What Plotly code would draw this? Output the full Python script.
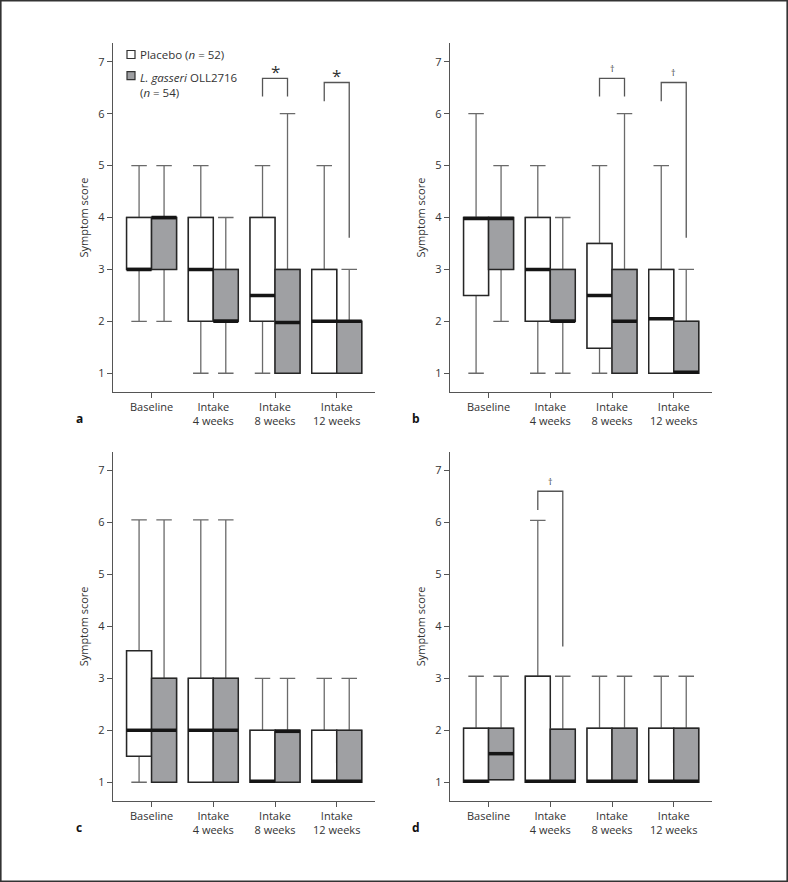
import plotly.graph_objects as go

# ---------------- data ----------------
categories = ["Baseline", "Intake<br>4 weeks", "Intake<br>8 weeks", "Intake<br>12 weeks"]
y_ticks = [1, 2, 3, 4, 5, 6, 7]

# each entry: (lower whisker, Q1, median, Q3, upper whisker) per category
a_placebo = [(2, 3, 3, 4, 5), (1, 2, 3, 4, 5), (1, 2, 2.5, 4, 5), (1, 1, 2, 3, 5)]
a_gasseri = [(2, 3, 4, 4, 5), (1, 2, 2, 3, 4), (1, 1, 1.98, 3, 6), (1, 1, 2, 2, 3)]

b_placebo = [(1, 2.5, 3.98, 4, 6), (1, 2, 3, 4, 5), (1, 1.48, 2.5, 3.5, 5), (1, 1, 2.05, 3, 5)]
b_gasseri = [(2, 3, 3.98, 4, 5), (1, 2, 2, 3, 4), (1, 1, 2, 3, 6), (1, 1, 1.02, 2, 3)]

c_placebo = [(1, 1.5, 2, 3.53, 6.05), (1, 1, 2, 3, 6.05), (1, 1, 1.02, 2, 3), (1, 1, 1.02, 2, 3)]
c_gasseri = [(1, 1, 2, 3, 6.05), (1, 1, 2, 3, 6.05), (1, 1, 1.98, 2, 3), (1, 1, 1.02, 2, 3)]

d_placebo = [(1, 1, 1.02, 2.04, 3.04), (1, 1, 1.02, 3.04, 6.04), (1, 1, 1.02, 2.04, 3.04), (1, 1, 1.02, 2.04, 3.04)]
d_gasseri = [(1.05, 1.05, 1.55, 2.04, 3.04), (1, 1, 1.02, 2.02, 3.04), (1, 1, 1.02, 2.04, 3.04), (1, 1, 1.02, 2.04, 3.04)]

# significance marks: (category index, symbol, bracket style)
a_sig = [(2, "*", "short"), (3, "*", "long")]
b_sig = [(2, "†", "short"), (3, "†", "long")]
c_sig = []
d_sig = [(1, "†", "long")]

legend_placebo = "Placebo (<i>n</i> = 52)"
legend_gasseri = "<i>L. gasseri</i> OLL2716<br>(<i>n</i> = 54)"
y_title = "Symptom score"

# ---------------- style ----------------
W, H = 788, 882
FONT = "Open Sans"
TXT = "#333333"
AXC = "#555555"
WHISK = "#6a6a6a"
BOXLINE = "#262626"
GRAY = "#9fa0a3"
BW = 0.405
OFF = BW / 2
XR = [-0.625, 3.62]
YR = [0.645, 7.355]

panels = [
    ("a", a_placebo, a_gasseri, a_sig, (113, 375), (43.3, 391.7)),
    ("b", b_placebo, b_gasseri, b_sig, (450, 712), (43.3, 391.7)),
    ("c", c_placebo, c_gasseri, c_sig, (113, 375), (452, 800.7)),
    ("d", d_placebo, d_gasseri, d_sig, (450, 712), (452, 800.7)),
]

fig = go.Figure()
layout = {}
annotations = []
shapes = []


def col(lst, j):
    return [t[j] for t in lst]


for k, (lab, plac, gas, sig, xd, yd) in enumerate(panels, start=1):
    xa = "x" if k == 1 else f"x{k}"
    ya = "y" if k == 1 else f"y{k}"
    xkey = "xaxis" if k == 1 else f"xaxis{k}"
    ykey = "yaxis" if k == 1 else f"yaxis{k}"
    layout[xkey] = dict(
        domain=[xd[0] / W, xd[1] / W], anchor=ya, range=XR,
        tickvals=list(range(len(categories))), ticktext=categories,
        ticks="outside", ticklen=5, tickwidth=1.2, tickcolor=AXC,
        showline=True, linecolor=AXC, linewidth=1.3,
        showgrid=False, zeroline=False,
        tickfont=dict(family=FONT, size=11, color=TXT),
    )
    layout[ykey] = dict(
        domain=[1 - yd[1] / H, 1 - yd[0] / H], anchor=xa, range=YR,
        tickvals=y_ticks, ticks="outside", ticklen=5, tickwidth=1.2, tickcolor=AXC,
        showline=True, linecolor=AXC, linewidth=1.3,
        showgrid=False, zeroline=False,
        tickfont=dict(family=FONT, size=11, color=TXT),
    )

    for data, sign, fill in ((plac, -1, "white"), (gas, 1, GRAY)):
        xs = [i + sign * OFF for i in range(len(data))]
        # whiskers (gray)
        fig.add_trace(go.Box(
            x=xs, lowerfence=col(data, 0), q1=col(data, 1), median=col(data, 2),
            q3=col(data, 3), upperfence=col(data, 4), width=BW, whiskerwidth=0.62,
            line=dict(color=WHISK, width=1.3), fillcolor="rgba(0,0,0,0)",
            boxpoints=False, xaxis=xa, yaxis=ya, showlegend=False, hoverinfo="skip",
        ))
        # box body (dark outline)
        fig.add_trace(go.Box(
            x=xs, lowerfence=col(data, 1), q1=col(data, 1), median=col(data, 2),
            q3=col(data, 3), upperfence=col(data, 3), width=BW, whiskerwidth=0,
            line=dict(color=BOXLINE, width=1.5), fillcolor=fill,
            boxpoints=False, xaxis=xa, yaxis=ya, showlegend=False, hoverinfo="skip",
        ))
        # thick median line
        mx, my = [], []
        for x0, m in zip(xs, col(data, 2)):
            mx += [x0 - BW / 2, x0 + BW / 2, None]
            my += [m, m, None]
        fig.add_trace(go.Scatter(
            x=mx, y=my, mode="lines", line=dict(color="#151515", width=3.5),
            xaxis=xa, yaxis=ya, showlegend=False, hoverinfo="skip",
        ))

    # significance brackets
    for ci, sym, style in sig:
        xl, xr = ci - OFF, ci + OFF
        if style == "short":
            top, lbot, rbot = 6.68, 6.33, 6.33
        else:
            top, lbot, rbot = 6.60, 6.24, 3.61
        fig.add_trace(go.Scatter(
            x=[xl, xl, xr, xr], y=[lbot, top, top, rbot], mode="lines",
            line=dict(color=AXC, width=1.3), xaxis=xa, yaxis=ya,
            showlegend=False, hoverinfo="skip",
        ))
        if sym == "*":
            annotations.append(dict(x=ci, y=top, xref=xa, yref=ya, text="*",
                                    showarrow=False, yanchor="bottom", yshift=-7,
                                    font=dict(family=FONT, size=17, color=TXT)))
        else:
            annotations.append(dict(x=ci, y=top, xref=xa, yref=ya, text="†",
                                    showarrow=False, yanchor="bottom", yshift=1,
                                    font=dict(family=FONT, size=9, color=TXT)))

    # y title
    annotations.append(dict(x=(xd[0] - 30) / W, y=1 - (yd[0] + yd[1]) / 2 / H,
                            xref="paper", yref="paper", text=y_title, textangle=-90,
                            showarrow=False, xanchor="center", yanchor="middle",
                            font=dict(family=FONT, size=11, color=TXT)))
    # panel label
    annotations.append(dict(x=(xd[0] - 34) / W, y=1 - (yd[1] + 27) / H,
                            xref="paper", yref="paper", text=f"<b>{lab}</b>",
                            showarrow=False, xanchor="center", yanchor="middle",
                            font=dict(family=FONT, size=12, color="#111111")))

# legend (panel a)
for (cy, fill) in ((54.5, "white"), (75.7, GRAY)):
    shapes.append(dict(type="rect", xref="paper", yref="paper",
                       x0=127 / W, x1=135 / W, y0=1 - (cy + 4) / H, y1=1 - (cy - 4) / H,
                       line=dict(color="#333333", width=1.2), fillcolor=fill))
annotations.append(dict(x=138 / W, y=1 - 54.5 / H, xref="paper", yref="paper",
                        text=legend_placebo, showarrow=False, xanchor="left", yanchor="middle",
                        font=dict(family=FONT, size=11.5, color=TXT)))
annotations.append(dict(x=138 / W, y=1 - 68 / H, xref="paper", yref="paper",
                        text=legend_gasseri, showarrow=False, xanchor="left", yanchor="top",
                        align="left", font=dict(family=FONT, size=11.5, color=TXT)))

# outer frame
shapes.append(dict(type="rect", xref="paper", yref="paper", x0=0.8 / W, x1=1 - 0.8 / W,
                   y0=0.8 / H, y1=1 - 0.8 / H, line=dict(color="#333333", width=1.6)))

fig.update_layout(
    width=W, height=H, margin=dict(l=0, r=0, t=0, b=0),
    paper_bgcolor="white", plot_bgcolor="white",
    boxmode="overlay", showlegend=False,
    annotations=annotations, shapes=shapes,
    **layout,
)

fig.write_html(
    "out.html",
    config={"displayModeBar": False},
    post_script="document.body.style.margin='0px';document.body.style.overflow='hidden';",
)
